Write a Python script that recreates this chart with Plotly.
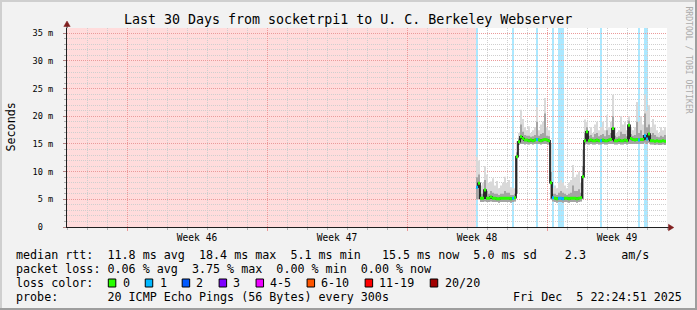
import plotly.graph_objects as go

# ---------------- data ----------------
START_DAY = 20.5          # first consolidated sample (days after graph start)
STEP_DAY = 0.1            # consolidation step (2.4 h)

median_ms = [
    7.2, 7.9, 5.2, 5.2, 6.7, 5.2, 5.2, 5.4, 5.2, 5.2,
    5.1, 5.1, 5.2, 5.2, 5.2, 5.2, 5.2, 5.1, 5.2, 5.3,
    12.7, 15.4, 16.3, 16.0, 15.7, 15.7, 15.6, 15.7, 15.6, 15.7,
    15.8, 15.7, 15.6, 15.7, 15.8, 15.7, 15.6, 8.0, 5.3, 5.2,
    5.1, 5.2, 5.2, 5.1, 5.2, 5.2, 5.1, 5.2, 5.2, 5.2,
    5.1, 5.2, 5.3, 9.1, 15.6, 17.2, 15.6, 15.7, 15.6, 15.6,
    15.7, 15.6, 15.6, 15.7, 15.6, 15.6, 15.7, 15.8, 17.8, 15.6,
    15.6, 15.7, 15.6, 15.6, 15.7, 15.6, 18.4, 16.0, 15.8, 15.7,
    15.8, 15.7, 15.8, 15.8, 16.5, 15.9, 16.8, 15.6, 15.6, 15.5,
    15.6, 15.5, 15.5, 15.6, 15.5,
]

loss_count = [
    1, 0, 0, 0, 0, 0, 0, 0, 0, 0,
    0, 0, 0, 0, 0, 0, 0, 0, 1, 0,
    0, 0, 0, 0, 0, 0, 0, 0, 0, 0,
    1, 0, 0, 0, 0, 0, 0, 0, 1, 0,
    0, 1, 1, 1, 0, 0, 0, 0, 0, 0,
    0, 0, 0, 0, 0, 0, 0, 0, 0, 0,
    0, 0, 1, 0, 0, 0, 0, 0, 0, 0,
    0, 0, 0, 0, 0, 0, 0, 0, 0, 0,
    0, 1, 0, 0, 1, 1, 0, 0, 0, 0,
    0, 0, 0, 0, 0,
]

ping_max_ms = [
    12.7, 12.0, 7.5, 8.0, 11.0, 9.5, 8.0, 8.2, 8.8, 7.5,
    8.3, 7.0, 7.5, 8.0, 9.1, 8.0, 8.5, 7.2, 7.0, 7.0,
    15.5, 17.0, 21.2, 19.5, 18.0, 17.5, 18.2, 17.0, 17.5, 18.0,
    21.7, 17.5, 18.5, 19.0, 23.3, 18.0, 17.5, 15.0, 7.0, 7.5,
    7.0, 8.0, 8.5, 8.0, 7.5, 7.0, 8.0, 8.5, 11.2, 9.0,
    9.5, 10.0, 8.0, 14.0, 19.4, 19.0, 17.5, 18.0, 17.0, 18.5,
    19.0, 17.5, 18.0, 19.0, 17.5, 20.2, 18.0, 19.0, 23.9, 18.0,
    17.0, 17.5, 20.0, 18.5, 19.0, 17.5, 20.0, 18.0, 17.5, 18.0,
    22.6, 19.0, 20.0, 18.5, 23.9, 21.0, 22.0, 18.0, 19.5, 18.5,
    17.5, 17.0, 18.0, 17.5, 18.0,
]

ping_upper_ms = [
    9.0, 9.5, 6.0, 6.0, 8.5, 6.5, 6.0, 6.5, 6.2, 6.0,
    6.0, 5.8, 6.0, 6.0, 6.5, 6.2, 6.2, 5.8, 5.8, 6.0,
    13.5, 16.0, 18.5, 17.2, 16.6, 16.5, 16.5, 16.3, 16.4, 16.6,
    19.0, 16.5, 16.8, 17.0, 20.5, 16.5, 16.4, 10.0, 6.0, 6.0,
    5.8, 6.2, 6.5, 6.2, 6.0, 5.8, 6.0, 6.2, 7.5, 6.5,
    6.5, 6.8, 6.2, 11.0, 17.0, 18.0, 16.5, 16.6, 16.2, 16.8,
    17.0, 16.4, 16.6, 16.8, 16.4, 17.5, 16.6, 17.0, 20.0, 16.5,
    16.2, 16.4, 17.2, 16.8, 16.8, 16.4, 19.2, 16.8, 16.5, 16.6,
    19.0, 17.0, 17.5, 16.6, 20.5, 18.0, 18.5, 16.6, 17.0, 16.6,
    16.3, 16.2, 16.5, 16.3, 16.6,
]

ping_min_ms = [
    5.0, 5.0, 4.5, 4.5, 4.6, 4.5, 4.5, 4.6, 4.5, 4.5,
    4.5, 4.4, 4.5, 4.5, 4.5, 4.5, 4.5, 4.4, 4.5, 4.6,
    6.0, 14.8, 15.0, 15.0, 14.9, 15.0, 14.9, 15.0, 14.9, 15.0,
    15.0, 15.0, 14.9, 15.0, 15.0, 15.0, 14.9, 5.0, 4.6, 4.5,
    4.4, 4.5, 4.5, 4.4, 4.5, 4.5, 4.4, 4.5, 4.5, 4.5,
    4.4, 4.5, 4.6, 5.0, 14.9, 15.0, 14.9, 15.0, 14.9, 14.9,
    15.0, 14.9, 14.9, 15.0, 14.9, 14.9, 15.0, 15.0, 15.0, 14.9,
    14.9, 15.0, 14.9, 14.9, 15.0, 14.9, 15.0, 15.0, 15.0, 15.0,
    15.0, 15.0, 15.0, 15.0, 15.2, 15.0, 15.2, 14.9, 14.9, 14.8,
    14.9, 14.8, 14.8, 14.9, 14.8,
]

week_start_days = [3, 10, 17, 24]
week_label_days = [6.5, 13.5, 20.5, 27.5]
week_labels = ["Week 46", "Week 47", "Week 48", "Week 49"]

y_tick_vals = [0, 5, 10, 15, 20, 25, 30, 35]
y_tick_text = ["0  ", "5 m", "10 m", "15 m", "20 m", "25 m", "30 m", "35 m"]

loss_labels = ["0", "1", "2", "3", "4-5", "6-10", "11-19", "20/20"]
loss_upper = [0, 1, 2, 3, 5, 10, 19, 20]
loss_colors = ["#26ff00", "#00b8ff", "#0059ff", "#7e00ff", "#ee00ff",
               "#ff5500", "#ff0000", "#a10000"]

title_text = "Last 30 Days from socketrpi1 to U. C. Berkeley Webserver"
median_line = "median rtt:  11.8 ms avg  18.4 ms max  5.1 ms min   15.5 ms now  5.0 ms sd    2.3     am/s"
loss_line = "packet loss: 0.06 % avg  3.75 % max  0.00 % min  0.00 % now"
probe_line = "probe:       20 ICMP Echo Pings (56 Bytes) every 300s"
date_text = "Fri Dec  5 22:24:51 2025"
watermark = "RRDTOOL / TOBI OETIKER"

# ---------------- styling ----------------
FONT = "DejaVu Sans Mono"
W, H = 697, 310
PL, PT, PW, PH = 67, 28, 600, 199
X_RANGE = [0, 30]
Y_RANGE = [0, 35.95]
GRID = "#cfcfcf"
MGRID = "#eb9a9a"
AXIS = "#1f1f1f"
ARROW = "#801f1f"
UNKNOWN = "#ffdcdc"


def px(x):
    return (x - PL) / PW


def py(y):
    return (PT + PH - y) / PH


def nb(s):
    return s.replace(" ", "\u00a0")


def rgba(hexc, a):
    h = hexc.lstrip("#")
    r, g, b = int(h[0:2], 16), int(h[2:4], 16), int(h[4:6], 16)
    return f"rgba({r},{g},{b},{a})"


def loss_index(n):
    for k, up in enumerate(loss_upper):
        if n <= up:
            return k
    return len(loss_upper) - 1


times = [START_DAY + STEP_DAY * i for i in range(len(median_ms))]
half = STEP_DAY / 2
edges = [t - half for t in times] + [times[-1] + half]


def stepped(v):
    return list(v) + [v[-1]]


fig = go.Figure()

# smoke (outer and inner bands)
fig.add_trace(go.Scatter(x=edges, y=stepped(ping_min_ms), mode="lines",
                         line=dict(width=0, shape="hv"), hoverinfo="skip"))
fig.add_trace(go.Scatter(x=edges, y=stepped(ping_max_ms), mode="lines",
                         line=dict(width=0, shape="hv"), fill="tonexty",
                         fillcolor="#d9d9d9", hoverinfo="skip"))
fig.add_trace(go.Scatter(x=edges, y=stepped(ping_min_ms), mode="lines",
                         line=dict(width=0, shape="hv"), hoverinfo="skip"))
fig.add_trace(go.Scatter(x=edges, y=stepped(ping_upper_ms), mode="lines",
                         line=dict(width=0, shape="hv"), fill="tonexty",
                         fillcolor="#a4a4a4", hoverinfo="skip"))

# median (black connecting line)
fig.add_trace(go.Scatter(x=edges, y=stepped(median_ms), mode="lines",
                         line=dict(color="#000000", width=1.5, shape="hv"),
                         hoverinfo="skip"))

# median coloured by loss
for k, col in enumerate(loss_colors):
    xs, ys = [], []
    for t, m, l in zip(times, median_ms, loss_count):
        if loss_index(l) == k:
            xs += [t - half, t + half, None]
            ys += [m, m, None]
    if xs:
        fig.add_trace(go.Scatter(x=xs, y=ys, mode="lines",
                                 line=dict(color=col, width=3),
                                 connectgaps=False, hoverinfo="skip"))

# dummy trace so the label axis is drawn
fig.add_trace(go.Scatter(x=[None], y=[None], xaxis="x2", yaxis="y",
                         mode="lines", hoverinfo="skip"))

shapes = []
# no-data (unknown) period
shapes.append(dict(type="rect", xref="x", yref="paper", x0=X_RANGE[0],
                   x1=times[0] - half, y0=0, y1=1, fillcolor=UNKNOWN,
                   line=dict(width=0), layer="below"))
# loss background bars
for t, l in zip(times, loss_count):
    if l > 0:
        col = loss_colors[loss_index(l)]
        shapes.append(dict(type="rect", xref="x", yref="paper", x0=t - half,
                           x1=t + half, y0=0, y1=1, fillcolor=rgba(col, 0.33),
                           line=dict(width=0), layer="below"))


def P(x, y):
    return f"{px(x):.5f},{py(y):.5f}"


# axis arrows
shapes.append(dict(type="path", xref="paper", yref="paper",
                   path=f"M{P(67, 28)} L{P(67, 26)}", line=dict(color=AXIS, width=1)))
shapes.append(dict(type="path", xref="paper", yref="paper",
                   path=f"M{P(67, 21)} L{P(63.8, 26.5)} L{P(70.2, 26.5)} Z",
                   fillcolor=ARROW, line=dict(color=ARROW, width=0.5)))
shapes.append(dict(type="path", xref="paper", yref="paper",
                   path=f"M{P(667, 227.5)} L{P(669, 227.5)}", line=dict(color=AXIS, width=1)))
shapes.append(dict(type="path", xref="paper", yref="paper",
                   path=f"M{P(673.8, 227.5)} L{P(668.5, 224.3)} L{P(668.5, 230.7)} Z",
                   fillcolor=ARROW, line=dict(color=ARROW, width=0.5)))

# image frame (shade A top/left, shade B bottom/right)
shapes.append(dict(type="rect", xref="paper", yref="paper", x0=px(0), x1=px(W),
                   y0=py(0), y1=py(2), fillcolor="#cfcfcf", line=dict(width=0)))
shapes.append(dict(type="rect", xref="paper", yref="paper", x0=px(0), x1=px(2),
                   y0=py(0), y1=py(H), fillcolor="#cfcfcf", line=dict(width=0)))
shapes.append(dict(type="rect", xref="paper", yref="paper", x0=px(0), x1=px(W),
                   y0=py(H - 2), y1=py(H), fillcolor="#9e9e9e", line=dict(width=0)))
shapes.append(dict(type="rect", xref="paper", yref="paper", x0=px(W - 2), x1=px(W),
                   y0=py(0), y1=py(H), fillcolor="#9e9e9e", line=dict(width=0)))

annotations = []


def add_text(x, y, s, size, xanchor="left", color="#000000", angle=0):
    annotations.append(dict(x=px(x), y=py(y), xref="paper", yref="paper",
                            text=nb(s), showarrow=False, xanchor=xanchor,
                            yanchor="middle", textangle=angle,
                            borderpad=0, borderwidth=0,
                            font=dict(family=FONT, size=size, color=color)))


CH = 7.04
LX = 15.5
ROWS = [255.3, 269.3, 283.2, 297.2]
LEG = 11.7

add_text(347.5, 19.5, title_text, 13.3, "center")
add_text(10, 127.5, "Seconds", LEG, "center", angle=-90)
add_text(688.5, 60, watermark, 8.1, "center", color="#ababab", angle=90)
add_text(LX, ROWS[0], median_line, LEG)
add_text(LX, ROWS[1], loss_line, LEG)
add_text(LX, ROWS[2], "loss color:", LEG)
add_text(LX, ROWS[3], probe_line, LEG)
add_text(681.5, ROWS[3], date_text, LEG, "right")

bx = 108.3
for lab, col in zip(loss_labels, loss_colors):
    shapes.append(dict(type="rect", xref="paper", yref="paper",
                       x0=px(bx), x1=px(bx + 7.5), y0=py(287.0), y1=py(279.0),
                       fillcolor=col, line=dict(color="#000000", width=1)))
    tx = bx + 14.3
    add_text(tx, ROWS[2], lab, LEG)
    bx = tx + len(lab) * CH + 15.6

fig.update_layout(
    width=W, height=H,
    margin=dict(l=PL, r=W - PL - PW, t=PT, b=H - PT - PH, pad=0),
    paper_bgcolor="#f2f2f2", plot_bgcolor="#ffffff",
    showlegend=False, hovermode=False,
    font=dict(family=FONT, color="#000000"),
    shapes=shapes, annotations=annotations,
    xaxis=dict(range=X_RANGE, tickmode="array", tickvals=week_start_days,
               ticktext=[""] * len(week_start_days),
               showgrid=True, gridcolor=MGRID, griddash="1px,1px", gridwidth=1,
               ticks="outside", ticklen=3, tickcolor=MGRID, tickwidth=1,
               showline=True, linecolor=AXIS, linewidth=1, zeroline=False,
               fixedrange=True,
               minor=dict(tickmode="linear", tick0=0, dtick=1, showgrid=True,
                          gridcolor=GRID, griddash="1px,1px", gridwidth=1,
                          ticks="outside", ticklen=2, tickcolor="#b0b0b0")),
    xaxis2=dict(overlaying="x", anchor="y", side="bottom", range=X_RANGE,
                tickmode="array", tickvals=week_label_days, ticktext=week_labels,
                showgrid=False, ticks="", showline=False, zeroline=False,
                tickfont=dict(family=FONT, size=9.6, color="#000000"),
                ticklabelstandoff=3, fixedrange=True),
    yaxis=dict(range=Y_RANGE, tickmode="array", tickvals=y_tick_vals,
               ticktext=[nb(s) for s in y_tick_text],
               showgrid=True, gridcolor=MGRID, griddash="1px,1px", gridwidth=1,
               ticks="outside", ticklen=3, tickcolor="#b08080", tickwidth=1,
               showline=True, linecolor=AXIS, linewidth=1, zeroline=False,
               tickfont=dict(family=FONT, size=8.6, color="#000000"),
               ticklabelstandoff=8, fixedrange=True,
               minor=dict(tickmode="linear", tick0=0, dtick=1, showgrid=True,
                          gridcolor=GRID, griddash="1px,1px", gridwidth=1,
                          ticks="outside", ticklen=2, tickcolor="#b0b0b0")),
)

fig.write_html("out.html", config={"displayModeBar": False, "staticPlot": True})
